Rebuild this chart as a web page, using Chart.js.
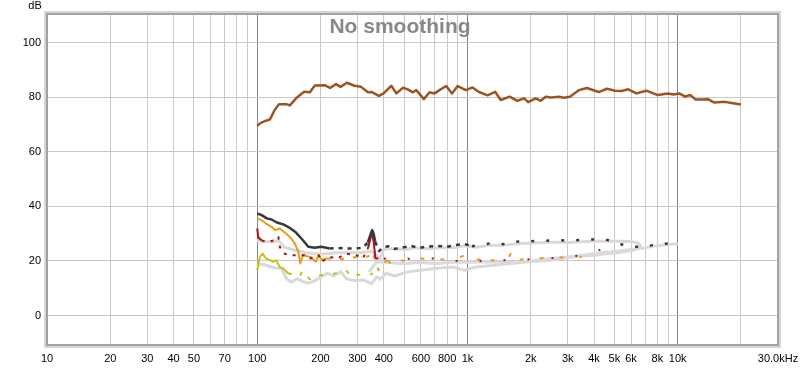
<!DOCTYPE html>
<html>
<head>
<meta charset="utf-8">
<script src="https://cdn.jsdelivr.net/npm/chart.js@4/dist/chart.umd.min.js"></script>
<style>
  html, body { margin: 0; padding: 0; background: #fff; }
  #wrap { width: 800px; height: 368px; }
</style>
</head>
<body>
<div id="wrap"><canvas id="rew" width="800" height="368"></canvas></div>
<script>
// measured traces, frequency in Hz and level in dB
var mainHz = [100, 104, 110, 115, 121, 127, 138, 143, 153, 167, 178, 188, 209, 222, 237, 249, 267, 290, 312, 336, 351, 379, 399, 434, 459, 494, 520, 550, 571, 620, 660, 697, 736, 792, 844, 898, 983, 1057, 1128, 1245, 1354, 1440, 1587, 1726, 1860, 1944, 2111, 2231, 2357, 2489, 2723, 2878, 3072, 3383, 3700, 4210, 4605, 5039, 5414, 5816, 6364, 7089, 8046, 8963, 9530, 10170, 10850, 11460, 12180, 12950, 13920, 14860, 16830, 17750, 20000];
var mainDb = [69.5, 70.6, 71.4, 71.9, 75.3, 77.4, 77.4, 77.0, 79.6, 82.0, 81.8, 84.3, 84.4, 83.4, 84.8, 83.8, 85.3, 84.2, 83.8, 81.8, 81.9, 80.5, 81.4, 84.2, 81.4, 83.5, 82.9, 81.8, 82.6, 79.3, 81.8, 81.4, 82.6, 84.1, 81.4, 84.1, 82.6, 83.6, 82.0, 80.7, 82.0, 79.0, 80.2, 78.7, 79.6, 78.2, 79.6, 78.7, 80.2, 79.9, 80.2, 79.8, 80.2, 82.6, 83.4, 81.9, 83.1, 82.4, 82.3, 82.9, 81.4, 82.4, 80.8, 81.4, 81.0, 81.4, 80.2, 80.8, 79.2, 79.2, 79.3, 78.1, 78.3, 78.0, 77.3];

var darkHz = [100, 105, 111, 117, 124, 133, 143, 153, 165, 175, 188, 202, 221, 242, 265, 296, 318, 336, 345, 352, 358, 364, 380, 394, 420, 450, 490, 540, 590, 650, 720, 800, 880, 968, 1050, 1150, 1288, 1450, 1634, 1900, 2300, 2700, 3048, 3500, 3973, 4500, 5260, 6000, 6800, 7600, 8500, 9900];
var darkDb = [37.4, 36.8, 35.6, 35.2, 34.1, 33.4, 32.1, 30.4, 27.6, 25.2, 24.8, 25.2, 24.6, 24.8, 24.6, 24.6, 24.8, 26.8, 29.5, 31.3, 30.0, 27.0, 23.6, 24.9, 25.4, 24.4, 24.9, 25.5, 24.8, 25.3, 25.5, 25.2, 25.8, 26.2, 25.4, 25.8, 26.5, 26.0, 27.0, 27.2, 27.4, 27.6, 27.4, 27.7, 27.9, 28.0, 26.2, 25.4, 25.0, 25.8, 26.2, 26.8];

var redHz = [100, 101, 105, 112, 120, 126, 128, 134, 143, 155, 168, 178, 196, 202, 221, 240, 265, 296, 318, 336, 345, 350, 358, 365, 400, 450, 520, 600, 700, 800, 968, 1200, 1500, 2000, 2500, 3000, 3500, 3973, 4300, 4600, 5000];
var redDb = [31.9, 28.8, 27.5, 27.0, 27.5, 28.8, 25.2, 22.7, 22.1, 22.1, 22.1, 20.9, 22.1, 19.7, 21.5, 20.9, 22.7, 22.1, 20.9, 24.6, 28.0, 30.5, 27.0, 20.9, 20.9, 20.5, 20.8, 21.0, 20.9, 20.5, 19.7, 20.0, 20.3, 20.6, 21.0, 21.6, 22.0, 23.0, 24.2, 23.3, 22.5];

var orangeHz = [100, 105, 110, 117, 122, 128, 134, 143, 151, 157, 160, 165, 178, 190, 196, 203, 215, 240, 270, 300, 330, 350, 355, 365, 378, 390, 420, 440, 460, 520, 600, 700, 800, 900, 968, 1000, 1150, 1250, 1300, 1400, 1550, 1634, 1700, 2000, 2500, 3000, 3500];
var orangeDb = [35.6, 34.9, 33.7, 32.5, 31.3, 31.9, 30.7, 28.8, 26.4, 23.3, 19.1, 22.1, 21.5, 19.7, 22.1, 20.3, 21.0, 20.5, 21.0, 21.5, 21.5, 22.1, 23.3, 19.7, 16.6, 19.0, 20.3, 17.8, 20.3, 20.0, 20.9, 20.5, 20.5, 21.0, 22.1, 20.3, 20.5, 22.7, 20.3, 20.0, 20.5, 23.7, 20.5, 20.8, 21.2, 21.3, 21.5];

var yellowHz = [100, 103, 106, 110, 115, 119, 123, 128, 133, 140, 150, 158, 165, 172, 180, 190, 210, 240, 265, 280, 300, 330, 355];
var yellowDb = [16.6, 21.5, 22.7, 20.9, 20.3, 19.7, 20.3, 17.8, 17.2, 15.5, 15.0, 14.0, 16.5, 14.5, 13.0, 14.5, 15.0, 15.5, 16.6, 14.0, 15.0, 14.5, 15.4];

var grayAHz = [100, 110, 120, 126, 135, 150, 170, 200, 240, 300, 350, 385, 400, 450, 500, 560, 650, 750, 850, 968, 1100, 1288, 1500, 1800, 2200, 2600, 3048, 3500, 4000, 4600, 5300, 6000, 6500, 6800];
var grayADb = [27.5, 27.0, 27.0, 27.5, 25.0, 24.0, 23.0, 22.5, 23.0, 23.0, 23.5, 21.0, 24.4, 24.6, 24.2, 24.8, 24.5, 24.8, 24.8, 25.6, 25.0, 25.8, 25.8, 26.4, 26.7, 26.9, 26.8, 27.0, 27.2, 27.3, 27.2, 27.1, 26.6, 24.3];

var grayBHz = [340, 370, 400, 500, 600, 700, 850, 1000, 1300, 1634, 2000, 2500, 3048, 3500, 4000, 5000, 6000, 6800, 7600, 8500, 10000];
var grayBDb = [16.0, 19.7, 19.5, 19.0, 19.5, 19.0, 19.5, 19.5, 19.7, 19.5, 20.0, 20.9, 21.5, 22.0, 22.7, 23.5, 24.2, 24.6, 25.4, 25.8, 26.4];

var grayCHz = [100, 110, 120, 130, 138, 145, 155, 165, 175, 185, 200, 215, 230, 250, 265, 290, 320, 350, 370, 385, 410, 450, 520, 600, 700, 850, 968, 1100, 1300, 1600, 2000, 2500, 3000, 3500, 4000, 5000, 5500, 6200, 6600];
var grayCDb = [19.0, 18.5, 17.5, 17.3, 13.5, 12.3, 13.5, 12.5, 11.8, 12.5, 14.0, 15.5, 14.5, 16.0, 13.5, 12.8, 13.0, 11.7, 14.2, 13.3, 15.5, 14.5, 16.0, 16.6, 17.2, 17.8, 16.6, 17.8, 18.3, 19.1, 19.8, 20.3, 21.3, 21.8, 22.1, 23.0, 23.3, 24.0, 25.8];

var gridHz = [20, 30, 40, 50, 60, 70, 80, 90, 100, 200, 300, 400, 500, 600, 700, 800, 900, 1000, 2000, 3000, 4000, 5000, 6000, 7000, 8000, 9000, 10000, 20000];
var tickHz = [10, 20, 30, 40, 50, 70, 100, 200, 300, 400, 600, 800, 1000, 2000, 3000, 4000, 5000, 6000, 8000, 10000, 30000];
var tickText = ['10', '20', '30', '40', '50', '70', '100', '200', '300', '400', '600', '800', '1k', '2k', '3k', '4k', '5k', '6k', '8k', '10k', '30.0kHz'];
var dbTicks = [0, 20, 40, 60, 80, 100];

function pts(hz, db) {
    return hz.map(function (f, i) { return {x: f, y: db[i]}; });
}

// dashed after some frequency, except inside a solid window
function dashAfter(from, pattern, solidLo, solidHi, sparseFrom, sparse) {
    return function (ctx) {
        var x = ctx.p0.parsed.x;
        if (x < from) return undefined;
        if (solidLo && x >= solidLo && ctx.p1.parsed.x <= solidHi) return undefined;
        if (sparseFrom && x >= sparseFrom) return sparse;
        return pattern;
    };
}

var frame = {
    id: 'frame',
    afterDraw: function (chart) {
        var c = chart.ctx, a = chart.chartArea;
        c.save();
        c.strokeStyle = '#d6d6d6';
        c.lineWidth = 4;
        c.strokeRect(a.left - 1, a.top - 1, a.right - a.left + 2, a.bottom - a.top + 2);
        c.strokeStyle = '#a2a2a2';
        c.lineWidth = 2;
        c.strokeRect(a.left, a.top, a.right - a.left, a.bottom - a.top);

        c.fillStyle = '#000';
        c.font = "11px 'Liberation Sans', Arial, sans-serif";
        c.textAlign = 'center';
        c.textBaseline = 'alphabetic';
        c.fillText('dB', 35, 9);

        c.fillStyle = '#888888';
        c.font = "bold 21px 'Liberation Sans', Arial, sans-serif";
        c.fillText('No smoothing', 400, 33);
        c.restore();
    }
};

var ctx = document.getElementById('rew').getContext('2d');
Chart.defaults.font.family = "'Liberation Sans', Arial, sans-serif";
Chart.defaults.font.size = 11;
Chart.defaults.color = '#000';

var chart = new Chart(ctx, {
    type: 'line',
    data: {
        datasets: [
            {data: pts(mainHz, mainDb), borderColor: '#9c5424', borderWidth: 2.5},
            {data: pts(darkHz, darkDb), borderColor: '#383838', borderWidth: 2.5,
                segment: {borderDash: dashAfter(205, [4, 5], 330, 372, 1000, [3, 12])}},
            {data: pts(redHz, redDb), borderColor: '#a81212', borderWidth: 2,
                segment: {borderDash: dashAfter(102, [3, 6], 336, 368, 370, [2, 22])}},
            {data: pts(orangeHz, orangeDb), borderColor: '#e89b1c', borderWidth: 2,
                segment: {borderDash: dashAfter(205, [4, 9], 0, 0, 400, [4, 16])}},
            {data: pts(yellowHz, yellowDb), borderColor: '#c8c020', borderWidth: 2,
                segment: {borderDash: dashAfter(136, [4, 10])}},
            {data: pts(grayAHz, grayADb), borderColor: '#d9d9d9', borderWidth: 3},
            {data: pts(grayBHz, grayBDb), borderColor: '#dadada', borderWidth: 3},
            {data: pts(grayCHz, grayCDb), borderColor: '#d9d9d9', borderWidth: 3}
        ]
    },
    options: {
        responsive: false,
        animation: false,
        events: [],
        layout: {padding: {top: 14, right: 22, left: 0, bottom: 0}},
        elements: {point: {radius: 0}, line: {tension: 0, borderJoinStyle: 'round'}},
        scales: {
            x: {
                type: 'logarithmic',
                min: 10,
                max: 30000,
                afterFit: function (s) {
                    s.height = 23;
                    s.paddingLeft = 0;
                    s.paddingRight = 0;
                },
                afterBuildTicks: function (s) {
                    var all = gridHz.concat(tickHz).filter(function (v, i, arr) { return arr.indexOf(v) === i; });
                    all.sort(function (p, q) { return p - q; });
                    s.ticks = all.map(function (v) { return {value: v}; });
                },
                border: {display: false},
                grid: {
                    drawTicks: false,
                    color: function (c) {
                        var v = c.tick ? c.tick.value : 0;
                        return (v === 100 || v === 1000 || v === 10000) ? '#858585' : '#c8c8c8';
                    }
                },
                ticks: {
                    autoSkip: false,
                    maxRotation: 0,
                    padding: 7,
                    callback: function (v) {
                        var i = tickHz.indexOf(v);
                        return i >= 0 ? tickText[i] : '';
                    }
                }
            },
            y: {
                min: -10.8,
                max: 110.5,
                afterFit: function (s) { s.width = 47; },
                afterBuildTicks: function (s) {
                    s.ticks = dbTicks.map(function (v) { return {value: v}; });
                },
                border: {display: false},
                grid: {drawTicks: false, color: '#c8c8c8'},
                ticks: {padding: 6}
            }
        },
        plugins: {
            legend: {display: false},
            tooltip: {enabled: false},
            title: {display: false}
        }
    },
    plugins: [frame]
});
</script>
</body>
</html>
